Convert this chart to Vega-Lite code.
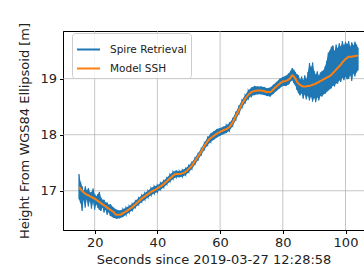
{
  "$schema": "https://vega.github.io/schema/vega-lite/v6.json",
  "autosize": {"type": "none"},
  "padding": {"left": 63, "top": 31, "right": 0, "bottom": 44},
  "width": 301,
  "height": 199,
  "config": {
    "view": {"stroke": "black"},
    "axis": {
      "labelFont": "DejaVu Sans", "titleFont": "DejaVu Sans",
      "labelFontSize": 13, "titleFontSize": 13, "titleFontWeight": "normal",
      "domainColor": "black", "tickColor": "black", "grid": false
    },
    "legend": {
      "labelFont": "DejaVu Sans", "labelFontSize": 10.5
    }
  },
  "data": {"values": [
    {"t":15,"lo":16.85,"hi":17.30,"m":17.07},
    {"t":15.5,"lo":16.78,"hi":17.16,"m":17.03},
    {"t":16,"lo":16.64,"hi":17.08,"m":17.00},
    {"t":16.5,"lo":16.84,"hi":16.99,"m":16.97},
    {"t":17,"lo":16.70,"hi":17.08,"m":16.95},
    {"t":17.5,"lo":16.85,"hi":17.00,"m":16.93},
    {"t":18,"lo":16.72,"hi":17.05,"m":16.92},
    {"t":18.5,"lo":16.82,"hi":16.97,"m":16.90},
    {"t":19,"lo":16.68,"hi":16.98,"m":16.89},
    {"t":19.5,"lo":16.80,"hi":17.04,"m":16.87},
    {"t":20,"lo":16.66,"hi":16.94,"m":16.86},
    {"t":20.5,"lo":16.76,"hi":16.90,"m":16.84},
    {"t":21,"lo":16.70,"hi":16.94,"m":16.82},
    {"t":21.5,"lo":16.66,"hi":16.98,"m":16.80},
    {"t":22,"lo":16.64,"hi":16.88,"m":16.78},
    {"t":22.5,"lo":16.70,"hi":16.84,"m":16.76},
    {"t":23,"lo":16.61,"hi":16.84,"m":16.74},
    {"t":23.5,"lo":16.66,"hi":16.79,"m":16.72},
    {"t":24,"lo":16.57,"hi":16.79,"m":16.70},
    {"t":24.5,"lo":16.62,"hi":16.75,"m":16.68},
    {"t":25,"lo":16.55,"hi":16.76,"m":16.66},
    {"t":26,"lo":16.52,"hi":16.70,"m":16.62},
    {"t":27,"lo":16.50,"hi":16.66,"m":16.57},
    {"t":28,"lo":16.51,"hi":16.65,"m":16.57},
    {"t":29,"lo":16.53,"hi":16.67,"m":16.60},
    {"t":30,"lo":16.57,"hi":16.70,"m":16.63},
    {"t":31,"lo":16.61,"hi":16.73,"m":16.67},
    {"t":32,"lo":16.65,"hi":16.77,"m":16.71},
    {"t":33,"lo":16.70,"hi":16.82,"m":16.76},
    {"t":34,"lo":16.75,"hi":16.87,"m":16.81},
    {"t":35,"lo":16.80,"hi":16.92,"m":16.86},
    {"t":36,"lo":16.84,"hi":16.96,"m":16.90},
    {"t":37,"lo":16.88,"hi":17.00,"m":16.94},
    {"t":38,"lo":16.92,"hi":17.05,"m":16.98},
    {"t":39,"lo":16.95,"hi":17.08,"m":17.01},
    {"t":40,"lo":16.98,"hi":17.10,"m":17.04},
    {"t":41,"lo":17.02,"hi":17.14,"m":17.08},
    {"t":42,"lo":17.06,"hi":17.18,"m":17.12},
    {"t":43,"lo":17.11,"hi":17.23,"m":17.17},
    {"t":44,"lo":17.16,"hi":17.29,"m":17.22},
    {"t":45,"lo":17.21,"hi":17.34,"m":17.27},
    {"t":46,"lo":17.24,"hi":17.36,"m":17.30},
    {"t":47,"lo":17.24,"hi":17.35,"m":17.30},
    {"t":48,"lo":17.25,"hi":17.37,"m":17.31},
    {"t":49,"lo":17.28,"hi":17.40,"m":17.34},
    {"t":50,"lo":17.33,"hi":17.45,"m":17.39},
    {"t":51,"lo":17.39,"hi":17.51,"m":17.45},
    {"t":52,"lo":17.47,"hi":17.59,"m":17.53},
    {"t":53,"lo":17.55,"hi":17.67,"m":17.61},
    {"t":54,"lo":17.64,"hi":17.76,"m":17.70},
    {"t":55,"lo":17.73,"hi":17.86,"m":17.80},
    {"t":56,"lo":17.81,"hi":17.95,"m":17.88},
    {"t":57,"lo":17.87,"hi":18.02,"m":17.94},
    {"t":58,"lo":17.91,"hi":18.06,"m":17.98},
    {"t":59,"lo":17.95,"hi":18.10,"m":18.02},
    {"t":60,"lo":17.98,"hi":18.12,"m":18.05},
    {"t":61,"lo":18.01,"hi":18.14,"m":18.08},
    {"t":62,"lo":18.03,"hi":18.17,"m":18.10},
    {"t":63,"lo":18.07,"hi":18.21,"m":18.14},
    {"t":64,"lo":18.15,"hi":18.29,"m":18.22},
    {"t":65,"lo":18.26,"hi":18.40,"m":18.33},
    {"t":66,"lo":18.37,"hi":18.51,"m":18.44},
    {"t":67,"lo":18.48,"hi":18.62,"m":18.55},
    {"t":68,"lo":18.57,"hi":18.71,"m":18.64},
    {"t":69,"lo":18.64,"hi":18.79,"m":18.71},
    {"t":70,"lo":18.69,"hi":18.84,"m":18.76},
    {"t":71,"lo":18.71,"hi":18.87,"m":18.78},
    {"t":72,"lo":18.72,"hi":18.86,"m":18.79},
    {"t":73,"lo":18.72,"hi":18.86,"m":18.79},
    {"t":74,"lo":18.71,"hi":18.85,"m":18.78},
    {"t":75,"lo":18.69,"hi":18.83,"m":18.76},
    {"t":76,"lo":18.68,"hi":18.84,"m":18.76},
    {"t":77,"lo":18.73,"hi":18.89,"m":18.81},
    {"t":78,"lo":18.78,"hi":18.94,"m":18.86},
    {"t":79,"lo":18.83,"hi":19.00,"m":18.91},
    {"t":80,"lo":18.87,"hi":19.03,"m":18.95},
    {"t":81,"lo":18.87,"hi":19.05,"m":18.96},
    {"t":82,"lo":18.90,"hi":19.10,"m":18.99},
    {"t":82.5,"lo":18.95,"hi":19.14,"m":19.02},
    {"t":83,"lo":18.97,"hi":19.19,"m":19.06},
    {"t":83.5,"lo":18.92,"hi":19.16,"m":19.04},
    {"t":84,"lo":18.88,"hi":19.12,"m":19.00},
    {"t":84.5,"lo":18.80,"hi":19.08,"m":18.95},
    {"t":85,"lo":18.74,"hi":19.06,"m":18.91},
    {"t":85.5,"lo":18.70,"hi":18.98,"m":18.89},
    {"t":86,"lo":18.74,"hi":19.04,"m":18.87},
    {"t":86.5,"lo":18.64,"hi":18.97,"m":18.86},
    {"t":87,"lo":18.72,"hi":19.06,"m":18.86},
    {"t":87.5,"lo":18.63,"hi":18.99,"m":18.86},
    {"t":88,"lo":18.70,"hi":19.12,"m":18.87},
    {"t":88.5,"lo":18.61,"hi":19.28,"m":18.87},
    {"t":89,"lo":18.68,"hi":19.20,"m":18.88},
    {"t":89.5,"lo":18.59,"hi":19.29,"m":18.89},
    {"t":90,"lo":18.66,"hi":19.14,"m":18.90},
    {"t":90.5,"lo":18.58,"hi":19.07,"m":18.91},
    {"t":91,"lo":18.67,"hi":19.13,"m":18.93},
    {"t":91.5,"lo":18.61,"hi":19.05,"m":18.94},
    {"t":92,"lo":18.69,"hi":19.11,"m":18.96},
    {"t":92.5,"lo":18.68,"hi":19.13,"m":18.97},
    {"t":93,"lo":18.72,"hi":19.15,"m":18.99},
    {"t":93.5,"lo":18.73,"hi":19.22,"m":19.00},
    {"t":94,"lo":18.76,"hi":19.32,"m":19.02},
    {"t":94.5,"lo":18.79,"hi":19.46,"m":19.03},
    {"t":95,"lo":18.81,"hi":19.50,"m":19.05},
    {"t":95.5,"lo":18.83,"hi":19.57,"m":19.07},
    {"t":96,"lo":18.88,"hi":19.59,"m":19.10},
    {"t":96.5,"lo":18.86,"hi":19.49,"m":19.13},
    {"t":97,"lo":18.92,"hi":19.61,"m":19.16},
    {"t":97.5,"lo":18.91,"hi":19.54,"m":19.19},
    {"t":98,"lo":18.97,"hi":19.63,"m":19.22},
    {"t":98.5,"lo":18.94,"hi":19.57,"m":19.25},
    {"t":99,"lo":19.02,"hi":19.67,"m":19.29},
    {"t":99.5,"lo":18.97,"hi":19.59,"m":19.32},
    {"t":100,"lo":19.04,"hi":19.66,"m":19.35},
    {"t":100.5,"lo":18.99,"hi":19.61,"m":19.37},
    {"t":101,"lo":19.00,"hi":19.67,"m":19.39},
    {"t":101.5,"lo":19.06,"hi":19.57,"m":19.39},
    {"t":102,"lo":18.96,"hi":19.65,"m":19.39},
    {"t":102.5,"lo":19.09,"hi":19.59,"m":19.40},
    {"t":103,"lo":19.04,"hi":19.66,"m":19.40},
    {"t":103.5,"lo":19.11,"hi":19.61,"m":19.41},
    {"t":104,"lo":19.15,"hi":19.55,"m":19.41}
  ]},
  "layer": [
    {
      "data": {"values": [{"t": 20}, {"t": 40}, {"t": 60}, {"t": 80}, {"t": 100}]},
      "mark": {"type": "rule", "color": "#b0b0b0", "strokeWidth": 0.9, "opacity": 0.8},
      "encoding": {
        "x": {"field": "t", "type": "quantitative"}
      }
    },
    {
      "data": {"values": [{"lo": 17}, {"lo": 18}, {"lo": 19}]},
      "mark": {"type": "rule", "color": "#b0b0b0", "strokeWidth": 0.9, "opacity": 0.8},
      "encoding": {
        "y": {"field": "lo", "type": "quantitative"}
      }
    },
    {
      "mark": {"type": "area", "interpolate": "linear", "color": "#1f77b4"},
      "encoding": {
        "x": {
          "field": "t", "type": "quantitative",
          "scale": {"domain": [9.9, 105.9], "nice": false, "zero": false},
          "axis": {"values": [20, 40, 60, 80, 100], "title": "Seconds since 2019-03-27 12:28:58", "labelColor": "#222", "titleColor": "#222", "tickSize": 3.5, "labelPadding": 3, "titlePadding": 4}
        },
        "y": {
          "field": "lo", "type": "quantitative",
          "scale": {"domain": [16.3, 19.85], "nice": false, "zero": false},
          "axis": {"values": [17, 18, 19], "title": "Height From WGS84 Ellipsoid [m]", "labelColor": "#222", "titleColor": "#222", "tickSize": 3.5, "labelPadding": 3, "titlePadding": 8}
        },
        "y2": {"field": "hi"}
      }
    },
    {
      "transform": [{"fold": ["lo", "hi"], "as": ["k", "v"]}],
      "mark": {"type": "line", "strokeWidth": 1.2},
      "encoding": {
        "x": {"field": "t", "type": "quantitative"},
        "y": {"field": "v", "type": "quantitative"},
        "order": {"field": "t"},
        "color": {
          "datum": "Spire Retrieval",
          "scale": {"domain": ["Spire Retrieval", "Model SSH"], "range": ["#1f77b4", "#ff7f0e"]},
          "legend": {
            "title": null, "orient": "none", "legendX": 9, "legendY": 2,
            "symbolType": "stroke", "symbolSize": 529, "symbolStrokeWidth": 2,
            "labelOffset": 9, "padding": 4, "rowPadding": 1, "labelColor": "#222",
            "fillColor": "rgba(255,255,255,0.8)", "strokeColor": "#cccccc", "cornerRadius": 3
          }
        }
      }
    },
    {
      "mark": {"type": "line", "interpolate": "monotone", "strokeWidth": 2},
      "encoding": {
        "x": {"field": "t", "type": "quantitative"},
        "y": {"field": "m", "type": "quantitative"},
        "color": {"datum": "Model SSH"}
      }
    }
  ]
}
